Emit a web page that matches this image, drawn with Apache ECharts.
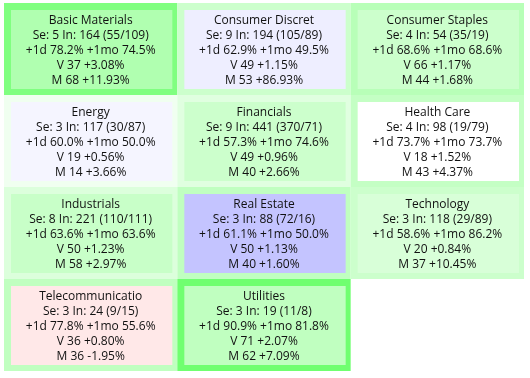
<!DOCTYPE html>
<html>
<head>
<meta charset="utf-8">
<script src="https://cdn.jsdelivr.net/npm/echarts@6/dist/echarts.min.js"></script>
<style>
  html, body { margin: 0; padding: 0; background: #fff; }
  #main { width: 530px; height: 378px; }
</style>
</head>
<body>
<div id="main"></div>
<script>
// sector data
var sectors = ["Basic Materials", "Consumer Discret", "Consumer Staples", "Energy", "Financials", "Health Care",
  "Industrials", "Real Estate", "Technology", "Telecommunicatio", "Utilities"];
var seCount = [5, 9, 4, 3, 9, 4, 8, 3, 3, 3, 3];
var inCount = [164, 194, 54, 117, 441, 98, 221, 88, 118, 24, 19];
var upCount = [55, 105, 35, 30, 370, 19, 110, 72, 29, 9, 11];
var downCount = [109, 89, 19, 87, 71, 79, 111, 16, 89, 15, 8];
var day1 = [78.2, 62.9, 68.6, 60.0, 57.3, 73.7, 63.6, 61.1, 58.6, 77.8, 90.9];
var mo1 = [74.5, 49.5, 68.6, 50.0, 74.6, 73.7, 63.6, 50.0, 86.2, 55.6, 81.8];
var vScore = [37, 49, 66, 19, 49, 18, 50, 50, 20, 36, 71];
var vChange = [3.08, 1.15, 1.17, 0.56, 0.96, 1.52, 1.23, 1.13, 0.84, 0.80, 2.07];
var mScore = [68, 53, 44, 14, 40, 43, 58, 40, 37, 36, 62];
var mChange = [11.93, 86.93, 1.68, 3.66, 2.66, 4.37, 2.97, 1.60, 10.45, -1.95, 7.09];

// cell colours (frame / inner box)
var frameColors = ["#80ff80", "#ccffcc", "#b8ffb8", "#f0fff0", "#e0ffe0", "#c4ffc4",
  "#dcffdc", "#c0ffc0", "#ccffcc", "#c0ffc0", "#70ff70"];
var boxColors = ["#b0ffb0", "#eeeeff", "#ccffcc", "#f5f5ff", "#ccffcc", "#ffffff",
  "#c8ffc8", "#c4c4ff", "#d8ffd8", "#ffe8e8", "#c0ffc0"];

function pct(v) {
  return (v >= 0 ? "+" : "") + v.toFixed(2) + "%";
}

var cells = sectors.map(function (name, i) {
  return [i % 3, Math.floor(i / 3), i];
});

var myChart = echarts.init(document.getElementById("main"));

myChart.setOption({
  animation: false,
  grid: { left: 4, right: 6, top: 3, bottom: 7 },
  xAxis: { type: "category", data: ["0", "1", "2"], show: false },
  yAxis: { type: "category", data: ["0", "1", "2", "3"], inverse: true, show: false },
  series: [{
    type: "custom",
    data: cells,
    renderItem: function (params, api) {
      var i = api.value(2);
      var c = api.coord([api.value(0), api.value(1)]);
      var s = api.size([1, 1]);
      var x0 = c[0] - s[0] / 2, y0 = c[1] - s[1] / 2;
      var lines = [
        sectors[i],
        "Se: " + seCount[i] + " In: " + inCount[i] + " (" + upCount[i] + "/" + downCount[i] + ")",
        "+1d " + day1[i].toFixed(1) + "% +1mo " + mo1[i].toFixed(1) + "%",
        "V " + vScore[i] + " " + pct(vChange[i]),
        "M " + mScore[i] + " " + pct(mChange[i])
      ];
      var children = [
        { type: "rect", shape: { x: x0, y: y0, width: s[0], height: s[1] }, style: { fill: frameColors[i] } },
        { type: "rect", shape: { x: x0 + 7, y: y0 + 7, width: s[0] - 12, height: s[1] - 13 }, style: { fill: boxColors[i] } }
      ];
      lines.forEach(function (t, k) {
        children.push({
          type: "text",
          style: {
            text: t, x: c[0], y: c[1] + 1.5 + (k - 2) * 15.2,
            align: "center", verticalAlign: "middle",
            fill: "#111111", font: "12px 'Open Sans'"
          }
        });
      });
      return { type: "group", children: children };
    }
  }]
});
</script>
</body>
</html>
